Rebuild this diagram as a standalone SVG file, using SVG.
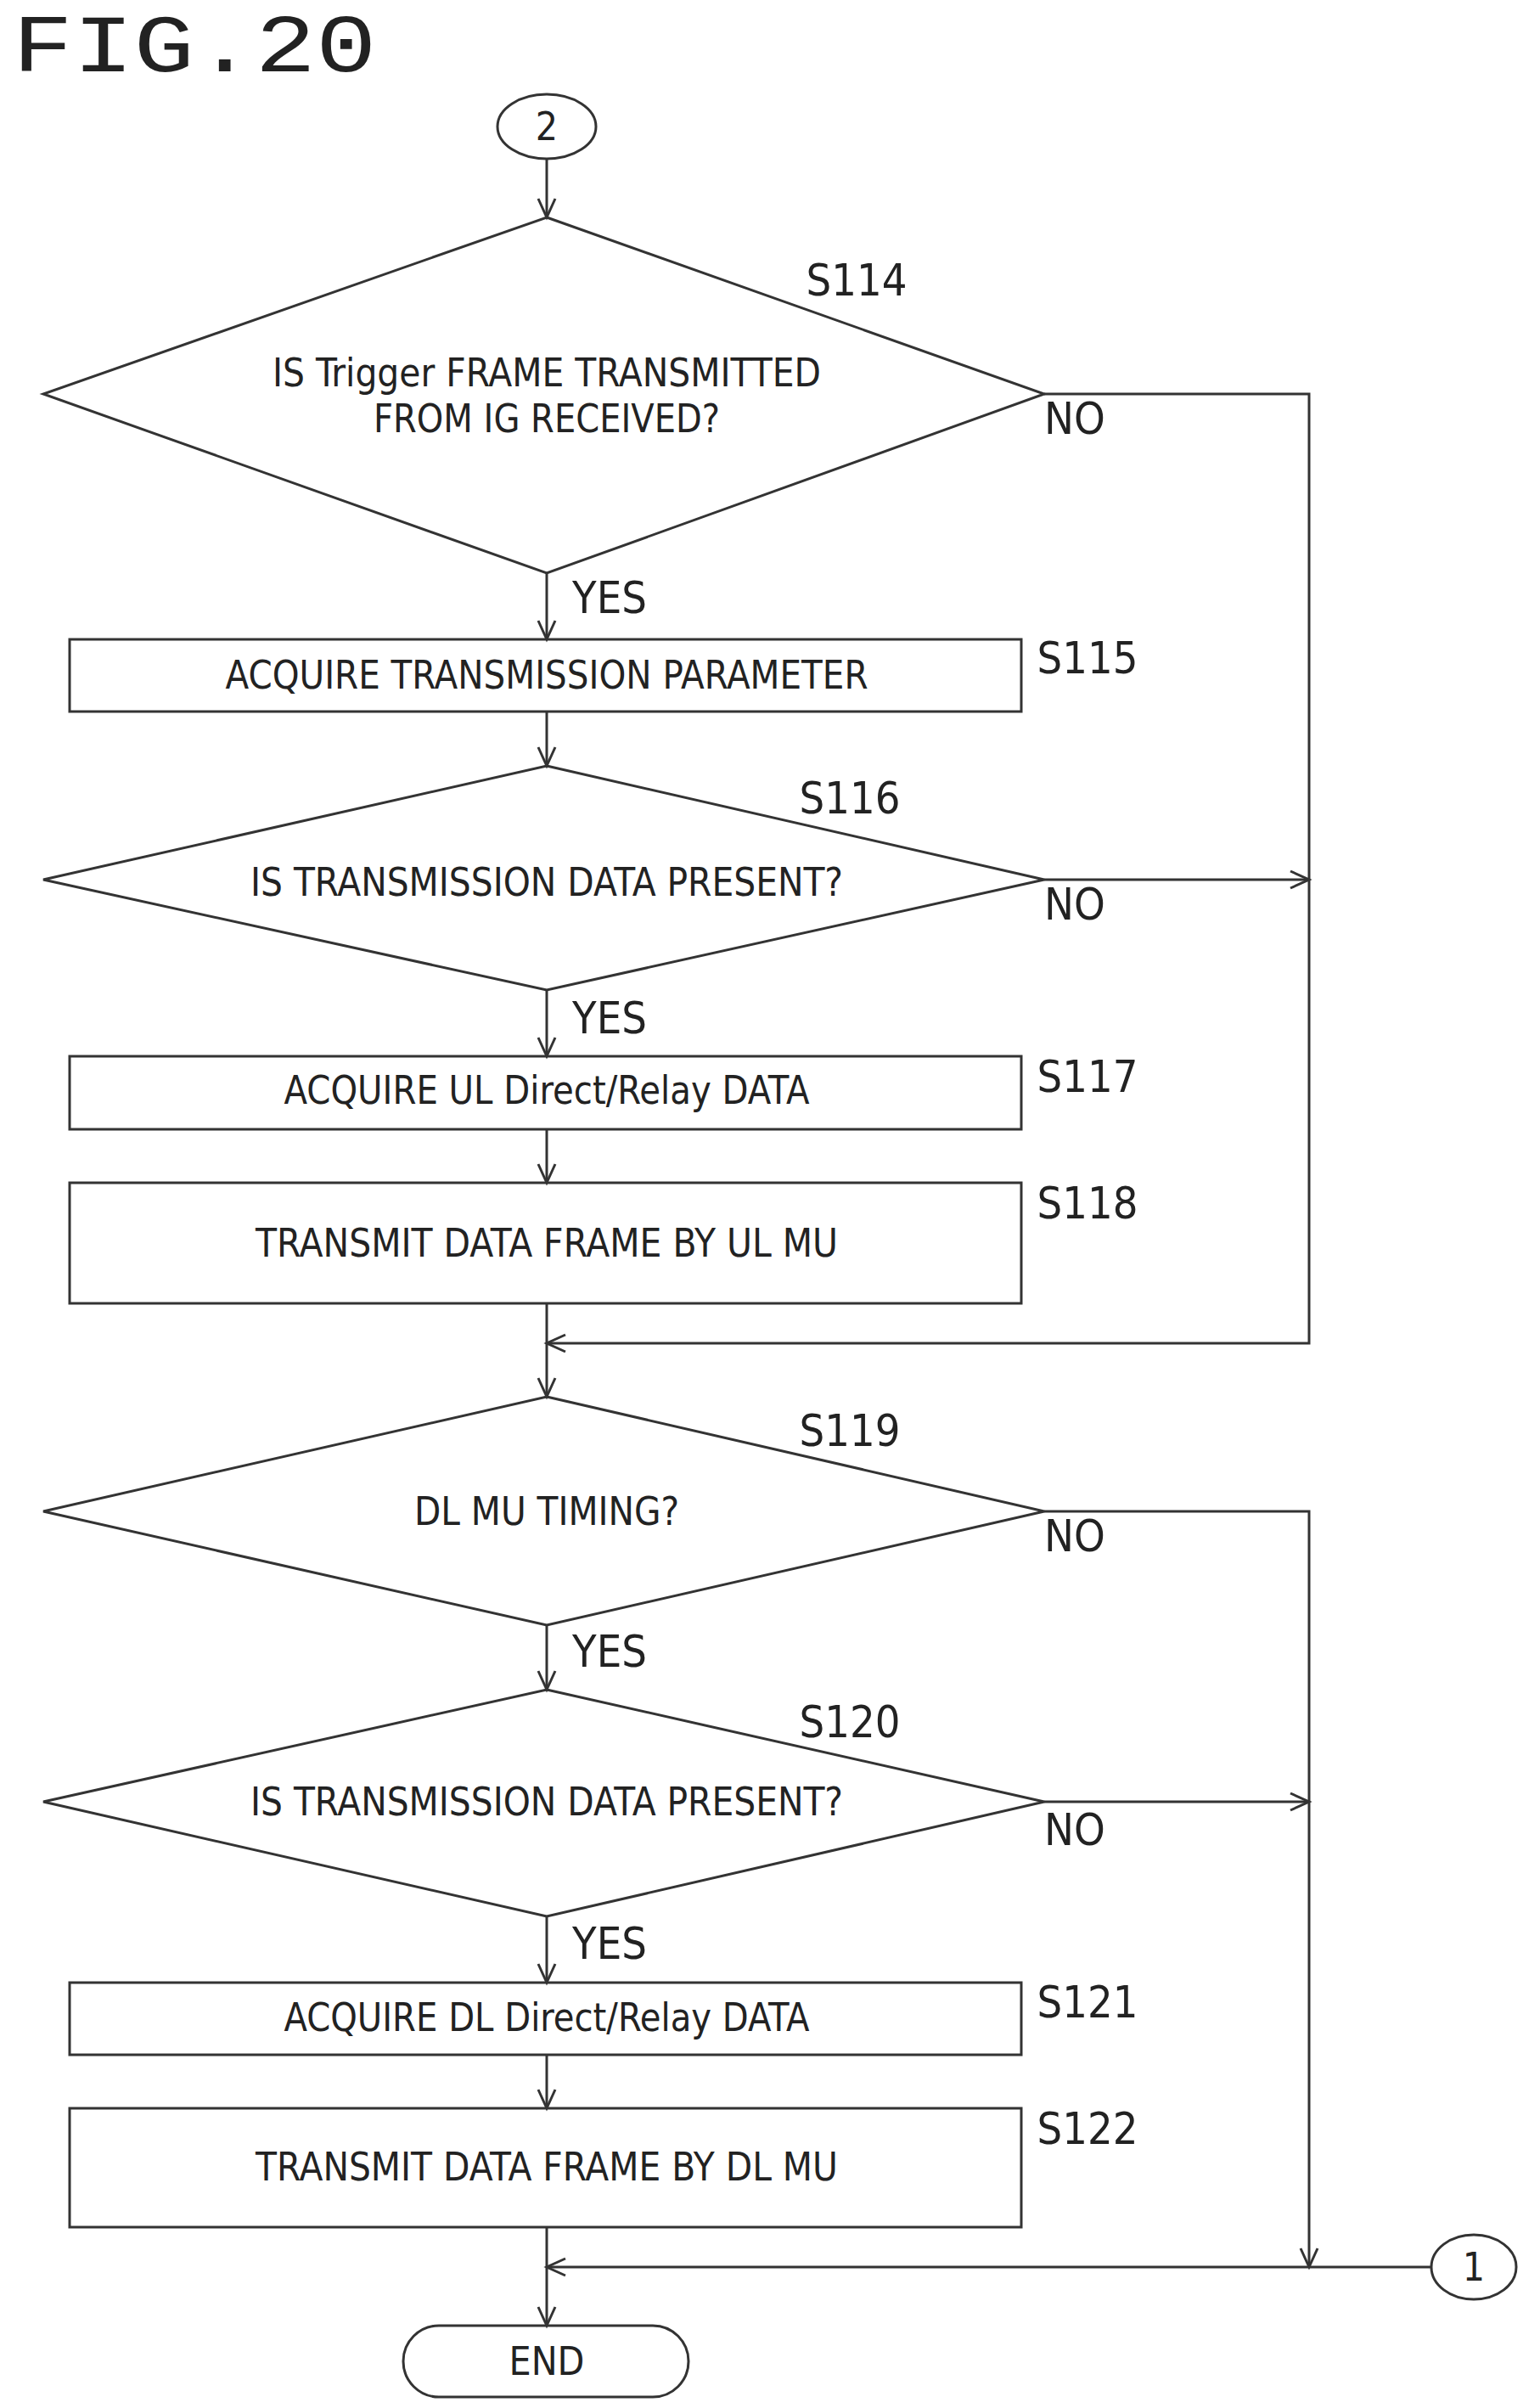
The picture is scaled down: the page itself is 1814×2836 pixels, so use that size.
<svg xmlns="http://www.w3.org/2000/svg" width="1814" height="2836" viewBox="0 0 1814 2836">
<style>
.s{fill:#fff;stroke:#333;stroke-width:3}
.c{fill:none;stroke:#333;stroke-width:3}
text{font-family:"DejaVu Sans Condensed","Liberation Sans",sans-serif;font-stretch:condensed;fill:#222;text-anchor:middle;dominant-baseline:central}
.t{font-size:46px}
.l{font-size:52px}
</style>
<defs>
<marker id="a" markerWidth="30" markerHeight="30" refX="26" refY="12" orient="auto" markerUnits="userSpaceOnUse">
<polyline points="4,2 26,12 4,22" fill="none" stroke="#333" stroke-width="3"/>
</marker>
</defs>
<text x="229" y="58" style="font-family:'Liberation Mono',monospace;font-size:96px;font-stretch:normal" textLength="429" lengthAdjust="spacingAndGlyphs">FIG.20</text>
<g id="c2"><ellipse class="s" cx="644" cy="149" rx="58" ry="38"/><text class="t" x="644" y="149">2</text></g>
<g id="s114"><polygon class="s" points="644,256 1230,464 644,675 51,464"/>
<text class="t" x="644" y="439" textLength="646" lengthAdjust="spacingAndGlyphs">IS Trigger FRAME TRANSMITTED</text>
<text class="t" x="644" y="493" textLength="408" lengthAdjust="spacingAndGlyphs">FROM IG RECEIVED?</text>
<text class="l" x="1009" y="330">S114</text></g>
<g id="s115"><rect class="s" x="82" y="753" width="1121" height="85"/>
<text class="t" x="644" y="795" textLength="757" lengthAdjust="spacingAndGlyphs">ACQUIRE TRANSMISSION PARAMETER</text>
<text class="l" x="1281" y="775">S115</text></g>
<g id="s116"><polygon class="s" points="644,902 1230,1036 644,1166 51,1036"/>
<text class="t" x="644" y="1039" textLength="698" lengthAdjust="spacingAndGlyphs">IS TRANSMISSION DATA PRESENT?</text>
<text class="l" x="1001" y="940">S116</text></g>
<g id="s117"><rect class="s" x="82" y="1244" width="1121" height="86"/>
<text class="t" x="644" y="1284" textLength="619" lengthAdjust="spacingAndGlyphs">ACQUIRE UL Direct/Relay DATA</text>
<text class="l" x="1281" y="1268">S117</text></g>
<g id="s118"><rect class="s" x="82" y="1393" width="1121" height="142"/>
<text class="t" x="644" y="1464" textLength="686" lengthAdjust="spacingAndGlyphs">TRANSMIT DATA FRAME BY UL MU</text>
<text class="l" x="1281" y="1417">S118</text></g>
<g id="s119"><polygon class="s" points="644,1645 1230,1780 644,1914 51,1780"/>
<text class="t" x="644" y="1780" textLength="312" lengthAdjust="spacingAndGlyphs">DL MU TIMING?</text>
<text class="l" x="1001" y="1685">S119</text></g>
<g id="s120"><polygon class="s" points="644,1990 1230,2122 644,2257 51,2122"/>
<text class="t" x="644" y="2122" textLength="698" lengthAdjust="spacingAndGlyphs">IS TRANSMISSION DATA PRESENT?</text>
<text class="l" x="1001" y="2028">S120</text></g>
<g id="s121"><rect class="s" x="82" y="2335" width="1121" height="85"/>
<text class="t" x="644" y="2376" textLength="619" lengthAdjust="spacingAndGlyphs">ACQUIRE DL Direct/Relay DATA</text>
<text class="l" x="1281" y="2358">S121</text></g>
<g id="s122"><rect class="s" x="82" y="2483" width="1121" height="140"/>
<text class="t" x="644" y="2552" textLength="686" lengthAdjust="spacingAndGlyphs">TRANSMIT DATA FRAME BY DL MU</text>
<text class="l" x="1281" y="2507">S122</text></g>
<g id="c1"><ellipse class="s" cx="1736" cy="2670" rx="50" ry="38"/><text class="t" x="1736" y="2670">1</text></g>
<g id="end"><rect class="s" x="475" y="2739" width="336" height="84" rx="42"/><text class="t" x="644" y="2781">END</text></g>
<g id="connectors">
<path class="c" d="M644,187 V256" marker-end="url(#a)"/>
<path class="c" d="M644,675 V753" marker-end="url(#a)"/>
<path class="c" d="M644,838 V902" marker-end="url(#a)"/>
<path class="c" d="M644,1166 V1244" marker-end="url(#a)"/>
<path class="c" d="M644,1330 V1393" marker-end="url(#a)"/>
<path class="c" d="M644,1535 V1645" marker-end="url(#a)"/>
<path class="c" d="M1230,464 H1542 V1582 H644" marker-end="url(#a)"/>
<path class="c" d="M1230,1036 H1542" marker-end="url(#a)"/>
<path class="c" d="M644,1914 V1990" marker-end="url(#a)"/>
<path class="c" d="M644,2257 V2335" marker-end="url(#a)"/>
<path class="c" d="M644,2420 V2483" marker-end="url(#a)"/>
<path class="c" d="M644,2623 V2739" marker-end="url(#a)"/>
<path class="c" d="M1230,1780 H1542 V2670" marker-end="url(#a)"/>
<path class="c" d="M1230,2122 H1542" marker-end="url(#a)"/>
<path class="c" d="M1686,2670 H644" marker-end="url(#a)"/>
<text class="l" x="1266" y="493">NO</text>
<text class="l" x="718" y="704">YES</text>
<text class="l" x="1266" y="1065">NO</text>
<text class="l" x="718" y="1199">YES</text>
<text class="l" x="1266" y="1809">NO</text>
<text class="l" x="718" y="1945">YES</text>
<text class="l" x="1266" y="2155">NO</text>
<text class="l" x="718" y="2289">YES</text>
</g>
</svg>
